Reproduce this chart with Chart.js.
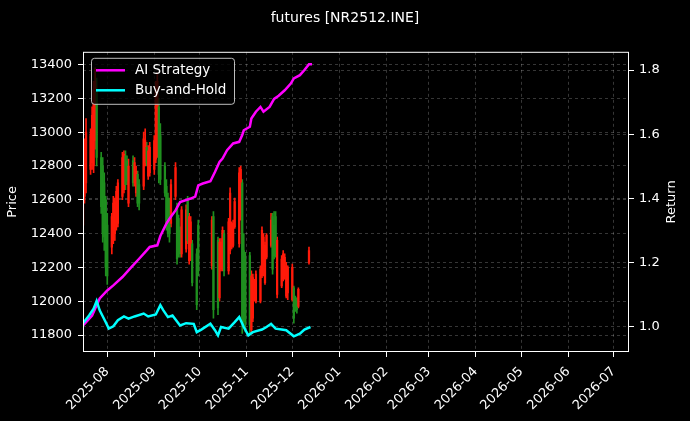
<!DOCTYPE html>
<html>
<head>
<meta charset="utf-8">
<script src="https://cdn.jsdelivr.net/npm/chart.js@4.4.1/dist/chart.umd.min.js"></script>
<style>
  html, body { margin: 0; padding: 0; background: #000; }
  #wrap { width: 690px; height: 421px; }
</style>
</head>
<body>
<div id="wrap"><canvas id="chart" width="690" height="421"></canvas></div>
<script>
const candleDates = [
  "2025-07-16","2025-07-17","2025-07-18","2025-07-21","2025-07-22","2025-07-23","2025-07-24","2025-07-25","2025-07-28","2025-07-29","2025-07-30","2025-07-31",
  "2025-08-01","2025-08-04","2025-08-05","2025-08-06","2025-08-07","2025-08-08","2025-08-11","2025-08-12","2025-08-13","2025-08-14","2025-08-15","2025-08-18","2025-08-19","2025-08-20","2025-08-21","2025-08-22","2025-08-25","2025-08-26","2025-08-27","2025-08-28","2025-08-29",
  "2025-09-01","2025-09-02","2025-09-03","2025-09-04","2025-09-05","2025-09-08","2025-09-09","2025-09-10","2025-09-11","2025-09-12","2025-09-15","2025-09-16","2025-09-17","2025-09-18","2025-09-19","2025-09-22","2025-09-23","2025-09-24","2025-09-25","2025-09-26","2025-09-29","2025-09-30",
  "2025-10-09","2025-10-10","2025-10-13","2025-10-14","2025-10-15","2025-10-16","2025-10-17","2025-10-20","2025-10-21","2025-10-22","2025-10-23","2025-10-24","2025-10-27","2025-10-28","2025-10-29","2025-10-30","2025-10-31",
  "2025-11-03","2025-11-04","2025-11-05","2025-11-06","2025-11-07","2025-11-10","2025-11-11","2025-11-12","2025-11-13","2025-11-14","2025-11-17","2025-11-18","2025-11-19","2025-11-20","2025-11-21","2025-11-24","2025-11-25","2025-11-26","2025-11-27","2025-11-28",
  "2025-12-01","2025-12-02","2025-12-03","2025-12-04","2025-12-05","2025-12-12"
];
const opens = [
  12450,12620,12700,12780,12820,12800,12950,13250,12850,12800,12700,12600,
  12450,12320,12360,12400,12440,12460,12620,12660,12860,12830,12580,12830,12700,12640,12750,12690,12680,12820,12910,12740,12760,
  12780,12840,12880,13150,12980,12800,12680,12610,12580,12460,12620,12560,12490,12420,12280,12310,12600,12240,12260,12340,12280,12450,
  12210,12500,12360,12020,12190,12200,12400,12180,12300,12320,12330,12440,12340,12500,12700,12300,12250,
  12270,11830,11900,12010,12000,12000,12150,12200,12110,12260,12330,12500,12450,12500,12040,12090,12130,12150,12030,12050,
  12010,12080,12020,12000,11970,12230
];
const highs = [
  12910,12960,13080,13020,13150,13300,13380,13320,12880,12850,12760,12620,
  12520,12520,12620,12610,12680,12720,12880,12890,12890,12860,12840,12860,12850,12800,12770,12720,13000,13020,12940,12920,12940,
  12980,13300,13350,13200,13050,12820,12720,12640,12610,12720,12820,12580,12510,12440,12560,12570,12620,12520,12500,12360,12310,12480,
  12500,12530,12380,12370,12370,12440,12420,12490,12670,12470,12480,12610,12790,12800,12720,12400,12290,
  12290,12180,12160,12130,12180,12210,12440,12400,12350,12400,12520,12520,12530,12530,12380,12270,12300,12280,12230,12210,
  12220,12090,12030,12020,12080,12320
];
const lows = [
  12400,12580,12640,12750,12780,12760,12900,12800,12520,12350,12300,12150,
  12100,12280,12340,12360,12420,12440,12600,12640,12660,12690,12560,12680,12680,12620,12560,12540,12660,12800,12800,12720,12740,
  12750,12820,12850,12700,12690,12620,12420,12380,12350,12440,12600,12220,12260,12260,12260,12290,12340,12220,12240,12090,11950,12150,
  12190,11900,11920,12000,12180,12180,12150,12160,12280,12310,12320,12430,12320,12480,11810,11850,11820,
  11810,11810,11880,12000,11990,11990,12140,12150,12100,12250,12320,12160,12250,12260,12020,12080,12120,12130,12020,12010,
  12000,11870,11940,11930,11960,12220
];
const closes = [
  12850,12900,13000,12980,13100,13250,13300,12850,12560,12400,12380,12200,
  12150,12500,12580,12590,12650,12700,12850,12870,12690,12710,12800,12700,12820,12770,12580,12580,12960,12950,12820,12890,12910,
  12950,13250,13300,12750,12720,12640,12450,12400,12400,12690,12790,12250,12300,12280,12540,12540,12360,12500,12470,12110,11980,12180,
  12480,11950,11960,12350,12350,12420,12180,12470,12640,12460,12460,12590,12760,12780,11900,11900,11880,
  11860,12150,12140,12120,12160,12190,12420,12380,12330,12390,12480,12190,12270,12280,12360,12250,12280,12260,12210,12200,
  12200,11900,11960,11950,12070,12300
];

const aiDates = [
  "2025-07-16","2025-07-17","2025-07-22","2025-07-27","2025-08-01","2025-08-05","2025-08-11","2025-08-16","2025-08-22","2025-08-27","2025-08-29",
  "2025-09-03","2025-09-05","2025-09-09","2025-09-11","2025-09-15","2025-09-18","2025-09-25","2025-09-28","2025-09-30",
  "2025-10-03","2025-10-08","2025-10-11","2025-10-14","2025-10-16","2025-10-19","2025-10-23","2025-10-27","2025-10-29","2025-10-30",
  "2025-11-03","2025-11-04","2025-11-07","2025-11-10","2025-11-12","2025-11-16","2025-11-19","2025-11-22","2025-11-26","2025-11-30",
  "2025-12-02","2025-12-06","2025-12-09","2025-12-12","2025-12-14"
];
const aiReturn = [
  1.003,1.008,1.034,1.087,1.112,1.128,1.154,1.180,1.211,1.237,1.248,
  1.253,1.282,1.321,1.336,1.362,1.388,1.399,1.405,1.440,
  1.446,1.453,1.482,1.513,1.524,1.550,1.571,1.576,1.597,1.612,
  1.623,1.649,1.670,1.685,1.670,1.685,1.710,1.720,1.737,1.758,
  1.774,1.784,1.800,1.818,1.818
];
const bhDates = [
  "2025-07-16","2025-07-20","2025-07-23","2025-07-25","2025-07-27","2025-07-31","2025-08-02","2025-08-05","2025-08-08","2025-08-12","2025-08-15","2025-08-19","2025-08-25","2025-08-28",
  "2025-09-02","2025-09-05","2025-09-07","2025-09-10","2025-09-13","2025-09-18","2025-09-22","2025-09-27","2025-09-29",
  "2025-10-02","2025-10-08","2025-10-11","2025-10-13","2025-10-15","2025-10-20","2025-10-24","2025-10-27","2025-10-30",
  "2025-11-02","2025-11-05","2025-11-11","2025-11-14","2025-11-17","2025-11-20","2025-11-24","2025-11-27",
  "2025-12-02","2025-12-06","2025-12-09","2025-12-13"
];
const bhReturn = [
  1.010,1.034,1.055,1.079,1.050,1.013,0.993,1.000,1.019,1.031,1.024,1.031,1.040,1.031,
  1.037,1.066,1.050,1.029,1.034,1.003,1.010,1.008,0.982,
  0.990,1.008,0.988,0.972,0.998,0.993,1.013,1.029,0.998,
  0.972,0.982,0.990,0.998,1.008,0.993,0.990,0.988,
  0.969,0.977,0.990,0.998
];

const monthTicks = ["2025-08","2025-09","2025-10","2025-11","2025-12","2026-01","2026-02","2026-03","2026-04","2026-05","2026-06","2026-07"];
const priceTicks = [11800, 12000, 12200, 12400, 12600, 12800, 13000, 13200, 13400];
const returnTicks = [1.0, 1.2, 1.4, 1.6, 1.8];

const UP = "#ff1a0a";
const DOWN = "#1f8f1f";
const FONT = "DejaVu Sans";
const GRID = "rgba(255,255,255,0.3)";

const t = (s) => Date.parse(s);
const candleColors = opens.map((o, i) => (closes[i] >= opens[i] ? UP : DOWN));

const gridOpts = {
  offset: false,
  color: GRID,
  lineWidth: 0.7,
  tickColor: "#fff",
  tickLength: 5,
  tickWidth: 1,
  tickBorderDash: [],
};

const bgPlugin = {
  id: "bg",
  beforeDraw(chart) {
    const { ctx } = chart;
    ctx.save();
    ctx.fillStyle = "#000";
    ctx.fillRect(0, 0, chart.width, chart.height);
    ctx.restore();
  },
};

const framePlugin = {
  id: "frame",
  afterDatasetsDraw(chart) {
    const { ctx, chartArea: a } = chart;
    ctx.save();
    ctx.strokeStyle = "#fff";
    ctx.lineWidth = 1;
    ctx.strokeRect(a.left + 0.5, a.top + 0.5, a.right - a.left - 1, a.bottom - a.top - 1);

    // legend, upper left
    const x = a.left + 8, y = a.top + 6, w = 143, h = 46;
    ctx.fillStyle = "rgba(0,0,0,0.8)";
    ctx.strokeStyle = "rgba(210,210,210,0.9)";
    ctx.beginPath();
    ctx.roundRect(x + 0.5, y + 0.5, w, h, 3);
    ctx.fill();
    ctx.stroke();
    const items = chart.data.datasets.filter((d) => d.type === "line");
    ctx.font = "13.5px '" + FONT + "'";
    ctx.textBaseline = "middle";
    items.forEach((d, i) => {
      const ly = y + 12.5 + i * 20;
      ctx.strokeStyle = d.borderColor;
      ctx.lineWidth = 2.5;
      ctx.beginPath();
      ctx.moveTo(x + 5, ly);
      ctx.lineTo(x + 34, ly);
      ctx.stroke();
      ctx.fillStyle = "#fff";
      ctx.fillText(d.label, x + 44, ly);
    });

    // right axis title, reading upward like the left one
    ctx.translate(chart.width - 18, (a.top + a.bottom) / 2);
    ctx.rotate(-Math.PI / 2);
    ctx.textAlign = "center";
    ctx.font = "13px '" + FONT + "'";
    ctx.fillStyle = "#fff";
    ctx.fillText("Return", 0, 0);
    ctx.restore();
  },
};

const ctx = document.getElementById("chart").getContext("2d");
new Chart(ctx, {
  data: {
    datasets: [
      {
        type: "line",
        label: "AI Strategy",
        data: aiDates.map((d, i) => ({ x: t(d), y: aiReturn[i] })),
        yAxisID: "y2",
        borderColor: "#ff00ff",
        borderWidth: 2.5,
        pointRadius: 0,
        tension: 0,
        order: 1,
      },
      {
        type: "line",
        label: "Buy-and-Hold",
        data: bhDates.map((d, i) => ({ x: t(d), y: bhReturn[i] })),
        yAxisID: "y2",
        borderColor: "#00ffff",
        borderWidth: 2.5,
        pointRadius: 0,
        tension: 0,
        order: 0,
      },
      {
        type: "bar",
        label: "body",
        data: candleDates.map((d, i) => ({ x: t(d), y: [opens[i], closes[i]] })),
        yAxisID: "y",
        backgroundColor: candleColors,
        barThickness: 1.6,
        grouped: false,
        order: 2,
      },
      {
        type: "bar",
        label: "wick",
        data: candleDates.map((d, i) => ({ x: t(d), y: [lows[i], highs[i]] })),
        yAxisID: "y",
        backgroundColor: candleColors,
        barThickness: 1,
        grouped: false,
        order: 3,
      },
    ],
  },
  options: {
    responsive: false,
    animation: false,
    layout: { padding: 0 },
    plugins: {
      legend: { display: false },
      tooltip: { enabled: false },
      title: {
        display: true,
        text: "futures [NR2512.INE]",
        color: "#fff",
        font: { family: FONT, size: 14, weight: "normal" },
        padding: { top: 10, bottom: 25 },
      },
    },
    scales: {
      x: {
        type: "linear",
        offset: false,
        min: t("2025-07-16"),
        max: t("2026-07-11"),
        afterBuildTicks: (s) => {
          s.ticks = monthTicks.map((m) => ({ value: t(m + "-01") }));
        },
        afterFit: (s) => {
          s.height = 69;
        },
        ticks: {
          color: "#fff",
          font: { family: FONT, size: 13 },
          minRotation: 45,
          maxRotation: 45,
          padding: 7,
          callback: (v) => {
            const d = new Date(v);
            return d.getUTCFullYear() + "-" + String(d.getUTCMonth() + 1).padStart(2, "0");
          },
        },
        grid: gridOpts,
        border: { display: false, dash: [3, 3] },
      },
      y: {
        position: "left",
        min: 11700,
        max: 13475,
        afterBuildTicks: (s) => {
          s.ticks = priceTicks.map((v) => ({ value: v }));
        },
        afterFit: (s) => {
          s.width = 83;
        },
        ticks: {
          color: "#fff",
          font: { family: FONT, size: 13 },
          padding: 6,
          callback: (v) => String(v),
        },
        grid: gridOpts,
        border: { display: false, dash: [3, 3] },
        title: {
          display: true,
          text: "Price",
          color: "#fff",
          font: { family: FONT, size: 13 },
          padding: { top: 5, bottom: 0 },
        },
      },
      y2: {
        position: "right",
        min: 0.92,
        max: 1.857,
        afterBuildTicks: (s) => {
          s.ticks = returnTicks.map((v) => ({ value: v }));
        },
        afterFit: (s) => {
          s.width = 61;
        },
        ticks: {
          color: "#fff",
          font: { family: FONT, size: 13 },
          padding: 5,
          callback: (v) => Number(v).toFixed(1),
        },
        grid: gridOpts,
        border: { display: false, dash: [3, 3] },
      },
    },
  },
  plugins: [bgPlugin, framePlugin],
});
</script>
</body>
</html>
